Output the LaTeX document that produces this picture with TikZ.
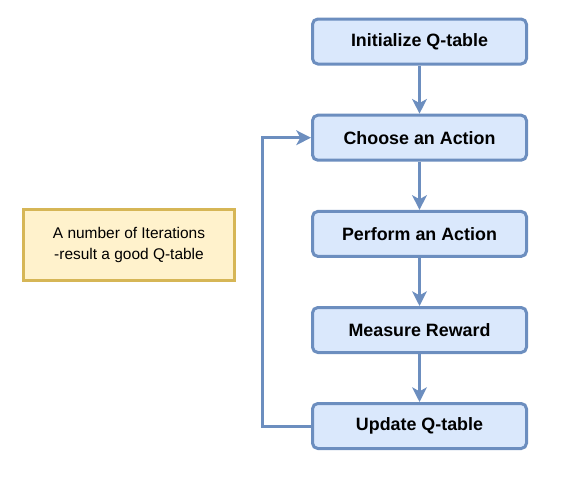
\documentclass[tikz,border=0pt]{standalone}
\usepackage{fontspec}
\setmainfont{Liberation Sans}
\usetikzlibrary{arrows.meta}
\definecolor{bfill}{HTML}{DAE8FC}
\definecolor{bline}{HTML}{6C8EBF}
\definecolor{yfill}{HTML}{FFF2CC}
\definecolor{yline}{HTML}{D6B656}
\begin{document}
\begin{tikzpicture}[x=0.75pt,y=-0.75pt,
  stepbox/.style={draw=bline,fill=bfill,line width=2.25pt,rounded corners=4pt,
    minimum width=160.5pt,minimum height=33.75pt,inner sep=0pt,
    font=\fontsize{13.4}{16}\selectfont\bfseries},
  notebox/.style={draw=yline,fill=yfill,line width=2.25pt,
    minimum width=157.8pt,minimum height=53.25pt,inner sep=0pt,align=center,
    font=\fontsize{11.6}{15.75}\selectfont},
  conn/.style={draw=bline,line width=2.25pt,-{Stealth[length=11pt,width=11pt,inset=3pt]}}]
\useasboundingbox (0,0) rectangle (581,476);
\node[stepbox] (s1) at (419.5,41.5) {Initialize Q-table};
\node[stepbox] (s2) at (419.5,137.7) {Choose an Action};
\node[stepbox] (s3) at (419.5,233.9) {Perform an Action};
\node[stepbox] (s4) at (419.5,330) {Measure Reward};
\node[stepbox] (s5) at (419.5,426) {Update Q-table};
\node[notebox] (n) at (129,245.3) {A number of Iterations\\-result a good Q-table};
\draw[conn] (s1) -- (s2);
\draw[conn] (s2) -- (s3);
\draw[conn] (s3) -- (s4);
\draw[conn] (s4) -- (s5);
\coordinate (c1) at (262.7,426);
\coordinate (c2) at (262.7,137.7);
\draw[conn] (s5.west) -- (c1) -- (c2) -- (s2.west);
\end{tikzpicture}
\end{document}
